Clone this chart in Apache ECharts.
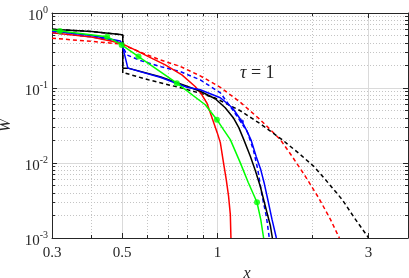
<!DOCTYPE html>
<html><head><meta charset="utf-8">
<script src="https://cdn.jsdelivr.net/npm/echarts@6/dist/echarts.min.js"></script>
<style>html,body{margin:0;padding:0;background:#fff}#c{width:409px;height:278px}</style>
</head><body><div id="c"></div>
<script>
// tick values (raw, log-scaled axes)
const xMajorTicks = [0.3, 0.5, 1, 3];
const xMinorTicks = [0.4, 0.6, 0.7, 0.8, 0.9, 2, 4];
const yMajorTicks = [0.001, 0.01, 0.1, 1];
const yMinorTicks = [0.002,0.003,0.004,0.005,0.006,0.007,0.008,0.009,
                     0.02,0.03,0.04,0.05,0.06,0.07,0.08,0.09,
                     0.2,0.3,0.4,0.5,0.6,0.7,0.8,0.9];
const xRange = [0.3, 4];
const yRange = [0.001, 1];

// series values [x, W]
const blackSolid = [[0.3,0.607],[0.4,0.567],[0.493,0.515],[0.502,0.51],[0.502,0.184],[0.522,0.184],
  [0.659,0.141],[0.801,0.1054],[0.882,0.0904],[0.984,0.0718],[1.058,0.0546],[1.122,0.0402],
  [1.168,0.0296],[1.211,0.0205],[1.27,0.01228],[1.317,0.00792],[1.365,0.0049],[1.434,0.00217],
  [1.469,0.00147],[1.491,0.001]];
const blackDashed = [[0.3,0.607],[0.4,0.567],[0.493,0.515],[0.502,0.51],[0.502,0.158],[0.511,0.158],[0.605,0.1285],
  [0.772,0.0997],[0.882,0.085],[0.984,0.0734],[1.181,0.0497],[1.365,0.0334],[1.60,0.0205],
  [1.828,0.01294],[2.014,0.00904],[2.193,0.00601],[2.477,0.00326],[2.729,0.00177],[2.985,0.00104],[3.0,0.001]];
const blueSolid = [[0.3,0.576],[0.4,0.502],[0.493,0.424],[0.4986,0.395],[0.521,0.184],[0.659,0.1388],
  [0.801,0.1022],[0.882,0.0946],[1.021,0.0741],[1.114,0.0546],[1.195,0.0358],[1.237,0.027],
  [1.279,0.01985],[1.326,0.01216],[1.37,0.00817],[1.406,0.00532],[1.442,0.00326],[1.487,0.00177],[1.535,0.001]];
const blueMarkers = [[1.195,0.0358]];
const blueDashed = [[0.3,0.547],[0.4,0.48],[0.493,0.411],[0.503,0.353],[0.517,0.2764],[0.569,0.2335],
  [0.659,0.1931],[0.762,0.1658],[0.882,0.1285],[1.021,0.0863],[1.122,0.0497],[1.242,0.0262],
  [1.298,0.01508],[1.341,0.00817],[1.381,0.0038],[1.427,0.00195],[1.458,0.001]];
const redSolid = [[0.3,0.547],[0.4,0.48],[0.493,0.399],[0.549,0.322],[0.605,0.2624],[0.684,0.2035],
  [0.772,0.1498],[0.85,0.1047],[0.889,0.0837],[0.926,0.063],[0.966,0.0378],[0.998,0.0254],
  [1.021,0.01868],[1.045,0.01003],[1.066,0.00601],[1.084,0.00361],[1.098,0.00206],[1.103,0.001]];
const redDashed = [[0.3,0.461],[0.4,0.418],[0.493,0.387],[0.569,0.303],[0.659,0.237],[0.762,0.1944],
  [0.882,0.1453],[1.021,0.1022],[1.181,0.0645],[1.365,0.0378],[1.58,0.0205],[1.721,0.01228],
  [1.895,0.00665],[2.088,0.00343],[2.275,0.00177],[2.416,0.00104],[2.428,0.001]];
const greenSolid = [[0.3,0.594],[0.318,0.576],[0.448,0.484],[0.498,0.375],[0.563,0.2624],[0.744,0.116],
  [0.915,0.0598],[0.996,0.0378],[1.045,0.0278],[1.098,0.0205],[1.181,0.01003],[1.251,0.00549],
  [1.333,0.003],[1.37,0.00177],[1.399,0.001]];
const greenMarkers = [[0.318,0.576],[0.448,0.484],[0.498,0.375],[0.563,0.2624],[0.744,0.116],[0.996,0.0378],[1.333,0.003]];

const L = Math.log10;
const tr = arr => arr.map(p => [L(p[0]), L(p[1])]);
const FONT = 'Liberation Serif';
const AX = '#262626';

const baseX = (pos, ticks, len, opts) => Object.assign({
  type: 'value', gridIndex: 0, position: pos, min: L(xRange[0]), max: L(xRange[1]),
  axisLine: {show: false, onZero: false}, axisLabel: {show: false}, splitLine: {show: false},
  axisTick: {show: true, inside: true, length: len, customValues: ticks.map(L), lineStyle: {color: AX, width: 1}}
}, opts || {});
const baseY = (pos, ticks, len, opts) => Object.assign({
  type: 'value', gridIndex: 0, position: pos, min: L(yRange[0]), max: L(yRange[1]), interval: 1,
  axisLine: {show: false, onZero: false}, axisLabel: {show: false}, splitLine: {show: false},
  axisTick: {show: true, inside: true, length: len, customValues: ticks.map(L), lineStyle: {color: AX, width: 1}}
}, opts || {});
const axLine = {show: true, onZero: false, lineStyle: {color: AX, width: 1}};

const chart = echarts.init(document.getElementById('c'), null, {renderer: 'canvas'});
const lineS = (data, color, dashed, z) => ({
  type: 'line', data: tr(data), symbol: 'none', smooth: false, z: z || 3,
  lineStyle: {color: color, width: 1.5, type: dashed ? [4, 3] : 'solid'}, animation: false,
  xAxisIndex: 0, yAxisIndex: 0
});
chart.setOption({
  animation: false,
  grid: {left: 52, right: 1, top: 13, bottom: 40, containLabel: false, outerBoundsMode: 'none'},
  xAxis: [
    baseX('bottom', xMajorTicks, 5, {
      axisLine: axLine,
      axisLabel: {show: true, customValues: xMajorTicks.map(L), margin: 8,
        formatter: v => String(+Math.pow(10, v).toPrecision(2)),
        fontFamily: FONT, fontSize: 15, color: AX},
      splitLine: {show: true, lineStyle: {color: '#dadada', width: 1, type: 'solid'}},
      name: 'x', nameLocation: 'middle', nameGap: 23,
      nameTextStyle: {fontFamily: FONT, fontStyle: 'italic', fontSize: 16, color: AX, padding: [0, 0, 0, 34]}
    }),
    baseX('bottom', xMinorTicks, 3, {splitLine: {show: true, lineStyle: {color: '#c4c4c4', width: 1, type: [1, 2]}}}),
    baseX('top', xMajorTicks, 5, {axisLine: axLine}),
    baseX('top', xMinorTicks, 3)
  ],
  yAxis: [
    baseY('left', yMajorTicks, 5, {
      axisLine: axLine,
      axisLabel: {show: true, customValues: yMajorTicks.map(L), margin: 4,
        formatter: v => '{b|10}{s|' + Math.round(v) + '}',
        rich: {
          b: {fontFamily: FONT, fontSize: 15, color: AX, padding: [6, 0, 0, 0]},
          s: {fontFamily: FONT, fontSize: 10, color: AX, padding: [0, 0, 6, 0]}
        }},
      splitLine: {show: true, lineStyle: {color: '#dadada', width: 1, type: 'solid'}},
      name: 'W', nameLocation: 'middle', nameGap: 38, nameRotate: 90,
      nameTextStyle: {fontFamily: FONT, fontStyle: 'italic', fontSize: 16, color: AX}
    }),
    baseY('left', yMinorTicks, 3, {splitLine: {show: true, lineStyle: {color: '#c4c4c4', width: 1, type: [1, 2]}}}),
    baseY('right', yMajorTicks, 5, {axisLine: axLine}),
    baseY('right', yMinorTicks, 3)
  ],
  series: [
    lineS(redDashed, '#ff0000', true),
    lineS(blackDashed, '#000000', true),
    lineS(blueDashed, '#0000ff', true),
    lineS(redSolid, '#ff0000', false),
    lineS(blackSolid, '#000000', false),
    lineS(blueSolid, '#0000ff', false),
    lineS(greenSolid, '#00ff00', false, 4),
    {type: 'scatter', data: tr(greenMarkers), symbol: 'circle', symbolSize: 6, z: 5,
      itemStyle: {color: '#00ff00'}, xAxisIndex: 0, yAxisIndex: 0},
    {type: 'scatter', data: tr(blueMarkers), symbol: 'circle', symbolSize: 4, z: 5,
      itemStyle: {color: '#0000ff'}, xAxisIndex: 0, yAxisIndex: 0}
  ],
  graphic: [{
    type: 'text', left: 240, top: 64, z: 10,
    style: {text: '{i|τ} = 1', rich: {i: {fontFamily: FONT, fontStyle: 'italic', fontSize: 18, fill: AX}},
      fontFamily: FONT, fontSize: 18, fill: AX}
  }]
});
</script></body></html>
